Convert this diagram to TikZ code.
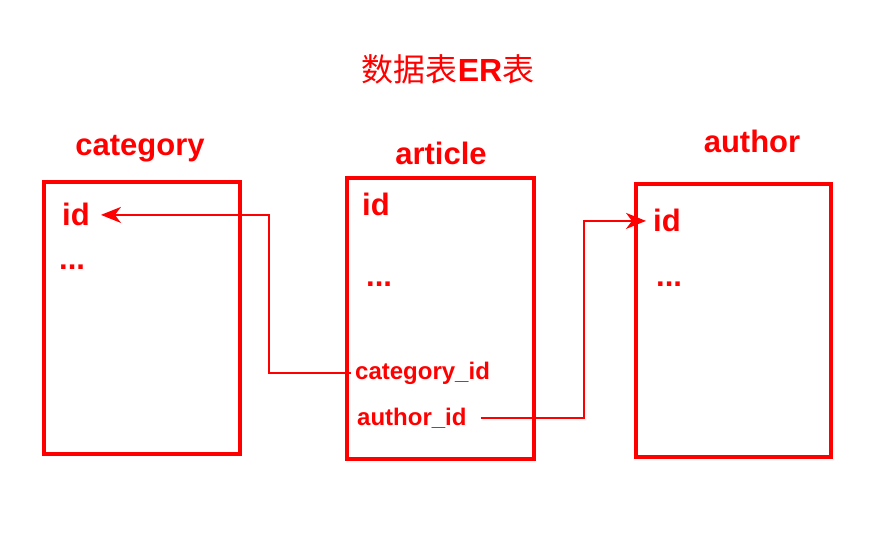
\documentclass[tikz,border=0pt]{standalone}
\usepackage{fontspec}
\setmainfont{Liberation Sans}
\newfontfamily\cjk{Noto Sans CJK SC}
\usetikzlibrary{arrows.meta,shadows}
\definecolor{erred}{RGB}{255,0,0}

\begin{document}
\begin{tikzpicture}[x=1pt,y=-1pt,
  point/.style={coordinate},
  table/.style={draw=erred, line width=3.5pt, fill=white, rectangle, inner sep=0pt,
    drop shadow={shadow xshift=2pt, shadow yshift=-2pt, opacity=0.35, fill=gray}},
  head/.style={text=erred, font=\fontsize{31}{36}\selectfont\bfseries, inner sep=0pt, anchor=base},
  field/.style={text=erred, font=\fontsize{31}{36}\selectfont\bfseries, inner sep=0pt, anchor=base west},
  key/.style={text=erred, font=\fontsize{24}{28}\selectfont\bfseries, inner sep=0pt, anchor=base west},
  link/.style={draw=erred, line width=2pt, -{Stealth[length=20pt,width=16pt,inset=6pt]}}]
\useasboundingbox (0,0) rectangle (895,540);
\node[text=erred, font=\fontsize{32}{38}\selectfont, inner sep=0pt, anchor=base] (title) at (448,82)
  {{\cjk 数据表}{\bfseries ER}{\cjk 表}};
% tables
\node[table, minimum width=196pt, minimum height=272pt] (category) at (142,318) {};
\node[table, minimum width=187pt, minimum height=281pt] (article) at (440.5,318.5) {};
\node[table, minimum width=195pt, minimum height=273pt] (author) at (733.5,320.5) {};
\node[head] (cathead) at (140,156) {category};
\node[head] (arthead) at (441,165) {article};
\node[head] (authead) at (752,153) {author};
% fields
\node[field] (catid) at (62,226) {id};
\node[field] (catmore) at (59,270) {...};
\node[field] (artid) at (362,216) {id};
\node[field] (artmore) at (366,287) {...};
\node[key] (catfk) at (355,379) {category\_id};
\node[key] (autfk) at (357,425) {author\_id};
\node[field] (autid) at (653,232) {id};
\node[field] (autmore) at (656,287) {...};
% links
\node[point] (k1) at (269,0) {};
\node[point] (k2) at (584,0) {};
\draw[link, shorten <=4pt, shorten >=11pt] (catfk.west) -| (k1 |- catid.east) -- (catid.east);
\draw[link, shorten <=14pt, shorten >=7pt] (autfk.east) -| (k2 |- autid.west) -- (autid.west);
\end{tikzpicture}
\end{document}
